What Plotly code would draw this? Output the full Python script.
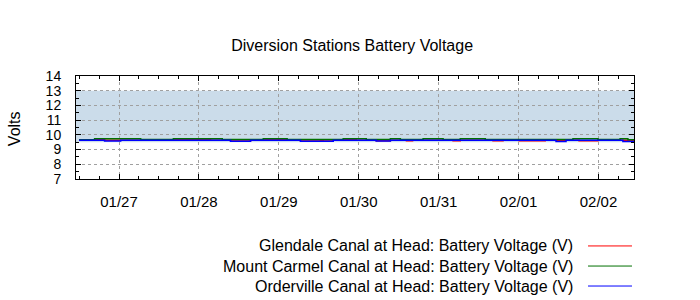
import plotly.graph_objects as go

# ---- data (step changes) ----
glendale_t = ["2025-01-26 12:00", "2025-01-26 19:40", "2025-01-27 16:20", "2025-01-28 03:30",
              "2025-01-28 09:30", "2025-01-28 15:30", "2025-01-28 19:20", "2025-01-29 02:30",
              "2025-01-29 06:30", "2025-01-29 12:30", "2025-01-29 13:20", "2025-01-29 16:20",
              "2025-01-29 19:20", "2025-01-29 23:15", "2025-01-30 05:15", "2025-01-30 09:30",
              "2025-01-30 14:20", "2025-01-30 16:10", "2025-01-31 04:20", "2025-01-31 06:30",
              "2025-01-31 16:20", "2025-01-31 19:20", "2025-02-01 00:10", "2025-02-01 08:00",
              "2025-02-01 18:10", "2025-02-01 23:50", "2025-02-02 10:20", "2025-02-02 10:50"]
glendale_v = [9.66, 9.63, 9.66, 9.63,
              9.58, 9.63, 9.66, 9.63,
              9.58, 9.63, 9.58, 9.63,
              9.66, 9.63, 9.60, 9.63,
              9.60, 9.63, 9.60, 9.63,
              9.60, 9.63, 9.60, 9.63,
              9.60, 9.63, 9.60, 9.60]

carmel_t = ["2025-01-26 12:00", "2025-01-26 16:40", "2025-01-27 06:30", "2025-01-27 16:20",
            "2025-01-28 07:00", "2025-01-28 19:20", "2025-01-29 02:30", "2025-01-29 19:20",
            "2025-01-30 02:15", "2025-01-30 09:30", "2025-01-30 12:30", "2025-01-30 19:20",
            "2025-01-31 01:20", "2025-01-31 06:30", "2025-01-31 14:00", "2025-02-01 16:20",
            "2025-02-01 23:50", "2025-02-02 06:30", "2025-02-02 08:50", "2025-02-02 10:50"]
carmel_v = [9.67, 9.73, 9.68, 9.73,
            9.68, 9.73, 9.68, 9.73,
            9.68, 9.73, 9.68, 9.73,
            9.68, 9.73, 9.68, 9.73,
            9.68, 9.73, 9.66, 9.66]

orderville_t = ["2025-01-26 12:00", "2025-01-26 19:40", "2025-01-27 00:30", "2025-01-28 09:30",
                "2025-01-28 15:30", "2025-01-29 06:30", "2025-01-29 16:20", "2025-01-30 05:15",
                "2025-01-30 09:30", "2025-02-01 11:15", "2025-02-01 14:15", "2025-02-02 07:20",
                "2025-02-02 10:50"]
orderville_v = [9.63, 9.59, 9.63, 9.57,
                9.63, 9.57, 9.63, 9.59,
                9.63, 9.55, 9.63, 9.55,
                9.55]

series_names = ["Glendale Canal at Head: Battery Voltage (V)",
                "Mount Carmel Canal at Head: Battery Voltage (V)",
                "Orderville Canal at Head: Battery Voltage (V)"]
series_colors = ["#ff0000", "#007000", "#0000ff"]

band_low, band_high = 9.5, 13
y_ticks = [7, 8, 9, 10, 11, 12, 13, 14]

FONT = "Liberation Sans, Arial, sans-serif"

fig = go.Figure()
for t, v, name, col in zip([glendale_t, carmel_t, orderville_t],
                           [glendale_v, carmel_v, orderville_v],
                           series_names, series_colors):
    fig.add_trace(go.Scatter(x=t, y=v, mode="lines", name=name,
                             line=dict(color=col, width=1.5, shape="hv"),
                             showlegend=False))

# shaded band
fig.add_shape(type="rect", xref="paper", x0=0, x1=1, yref="y", y0=band_low, y1=band_high,
              fillcolor="#cbdcea", line_width=0, layer="below")

# legend drawn gnuplot-style (text right-aligned, sample line on right)
leg_y = [-0.650, -0.845, -1.039]
for name, col, yy in zip(series_names, series_colors, leg_y):
    fig.add_annotation(xref="paper", yref="paper", x=0.894, y=yy, text=name,
                       showarrow=False, xanchor="right", yanchor="middle",
                       font=dict(family=FONT, size=16, color="#000"))
    fig.add_shape(type="line", xref="paper", yref="paper", x0=0.9176, x1=0.9964,
                  y0=yy, y1=yy, line=dict(color=col, width=1))

fig.add_annotation(xref="paper", yref="paper", x=-0.11, y=0.49, text="Volts",
                   textangle=-90, showarrow=False, xanchor="center", yanchor="middle",
                   font=dict(family=FONT, size=16, color="#000"))

fig.update_layout(
    width=700, height=300,
    margin=dict(l=76, r=66, t=76, b=121),
    paper_bgcolor="white", plot_bgcolor="rgba(0,0,0,0)",
    font=dict(family=FONT, size=15, color="#000"),
    title=dict(text="Diversion Stations Battery Voltage", x=0.503, xref="container",
               y=0.85, yref="container", xanchor="center", yanchor="middle",
               font=dict(family=FONT, size=16, color="#000")),
    showlegend=False,
)
fig.update_xaxes(
    type="date", range=["2025-01-26 11:05", "2025-02-02 10:40"],
    tick0="2025-01-27", dtick=86400000, tickformat="%m/%d",
    tickfont=dict(size=15),
    ticks="inside", ticklen=5, tickcolor="#000",
    minor=dict(dtick=21600000, ticks="inside", ticklen=3, tickcolor="#000", showgrid=False),
    showline=True, linecolor="#000", linewidth=1, mirror="allticks",
    showgrid=True, gridcolor="#a0a0a0", griddash="3px,3px", gridwidth=1,
    zeroline=False, ticklabelstandoff=9,
)
fig.update_yaxes(
    range=[7, 14], tickvals=y_ticks,
    tickfont=dict(size=14),
    ticks="inside", ticklen=5, tickcolor="#000",
    minor=dict(dtick=0.5, ticks="inside", ticklen=3, tickcolor="#000", showgrid=False),
    showline=True, linecolor="#000", linewidth=1, mirror="allticks",
    showgrid=True, gridcolor="#a0a0a0", griddash="3px,3px", gridwidth=1,
    zeroline=False, ticklabelstandoff=11,
)

fig.write_html("out.html")
